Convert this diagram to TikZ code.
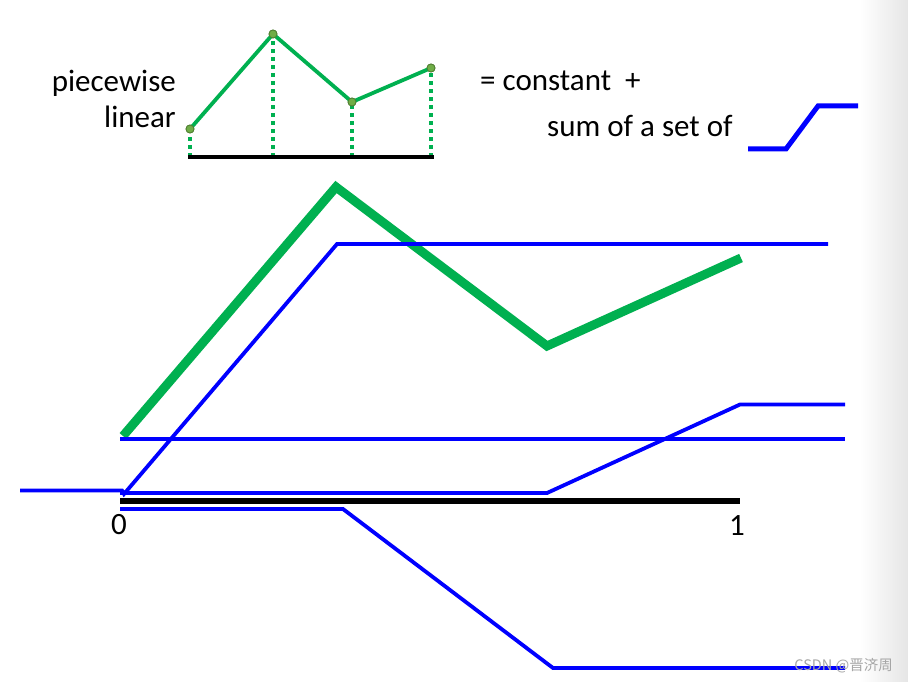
\documentclass[tikz,border=0pt]{standalone}
\usepackage{fontspec}
\setmainfont{Carlito}
\newfontfamily\cjkwm{Noto Sans CJK SC}
\definecolor{pwgreen}{HTML}{00B050}
\definecolor{dotfill}{HTML}{70AD47}
\definecolor{dotedge}{HTML}{507E32}
\definecolor{rampblue}{HTML}{0000FF}
\begin{document}
\begin{tikzpicture}[x=1pt,y=-1pt,
  lbl/.style={inner sep=0pt,font=\fontsize{31}{37}\selectfont},
  axisline/.style={line width=6pt,black},
  smallaxis/.style={line width=4pt,black},
  pwthin/.style={line width=3.8pt,pwgreen,line join=round},
  pwthick/.style={line width=9pt,pwgreen},
  dropline/.style={line width=4pt,pwgreen,dash pattern=on 4pt off 4pt},
  knot/.style={circle,fill=dotfill,draw=dotedge,line width=0.8pt,minimum size=8pt,inner sep=0pt},
  ramp/.style={line width=3.8pt,rampblue},
  icon/.style={line width=5pt,rampblue}]
\useasboundingbox (0,0) rectangle (908,682);
\fill[white] (0,0) rectangle (908,682);
\shade[left color=white,right color=black!10] (860,0) rectangle (908,682);

% top small plot
\coordinate (b1) at (190,157);
\coordinate (b2) at (273,157);
\coordinate (b3) at (352,157);
\coordinate (b4) at (431,157);
\coordinate (bl) at (188,157);
\coordinate (br) at (434,157);
\draw[dropline] (b1) -- (190,129);
\draw[dropline] (b2) -- (273,34);
\draw[dropline] (b3) -- (352,102);
\draw[dropline] (b4) -- (431,68);
\draw[smallaxis] (bl) -- (br);
\node[knot] (k1) at (190,129) {};
\node[knot] (k2) at (273,34) {};
\node[knot] (k3) at (352,102) {};
\node[knot] (k4) at (431,68) {};
\draw[pwthin] (k1.center) -- (k2.center) -- (k3.center) -- (k4.center);
\node[knot] at (k1) {};
\node[knot] at (k2) {};
\node[knot] at (k3) {};
\node[knot] at (k4) {};

\node[lbl,anchor=base east] (pw) at (176,92) {piecewise};
\node[lbl,anchor=base east] (lin) at (176,128) {linear};
\node[lbl,anchor=base west] (const) at (480,91) {= constant\ \ +};
\node[lbl,anchor=base west] (sum) at (547,137) {sum of a set of};

% step icon
\coordinate (i1) at (748,149);
\coordinate (i2) at (786,149);
\coordinate (i3) at (818,106);
\coordinate (i4) at (858,106);
\draw[icon] (i1) -- (i2) -- (i3) -- (i4);

% main plot
\coordinate (g1) at (123,436);
\coordinate (g2) at (336,187);
\coordinate (g3) at (547,346);
\coordinate (g4) at (741,258);
\draw[pwthick] (g1) -- (g2) -- (g3) -- (g4);

\coordinate (r1a) at (20,490.5);
\coordinate (r1b) at (124,494);
\coordinate (r1c) at (337,244);
\coordinate (r1d) at (828,244);
\draw[ramp] (r1a) -- (122,490.5) -- (r1b) -- (r1c) -- (r1d);

\coordinate (ca) at (120,439);
\coordinate (cb) at (845,439);
\draw[ramp] (ca) -- (cb);

\coordinate (r3a) at (120,493);
\coordinate (r3b) at (547,493);
\coordinate (r3c) at (740,404.5);
\coordinate (r3d) at (845,404.5);
\draw[ramp] (r3a) -- (r3b) -- (r3c) -- (r3d);

\coordinate (r4a) at (120,509);
\coordinate (r4b) at (343,509);
\coordinate (r4c) at (553,668);
\coordinate (r4d) at (845,668);
\draw[ramp] (r4a) -- (r4b) -- (r4c) -- (r4d);

\coordinate (ax0) at (120,501);
\coordinate (ax1) at (740,501);
\draw[axisline] (ax0) -- (ax1);

\node[lbl,anchor=base] (zero) at (119,534) {0};
\node[lbl,anchor=base] (one) at (737,535) {1};

\node[inner sep=0pt,anchor=base east,text=black!35,font=\cjkwm\fontsize{14.5}{17}\selectfont] (wm) at (893,670) {CSDN @晋济周};
\end{tikzpicture}
\end{document}
